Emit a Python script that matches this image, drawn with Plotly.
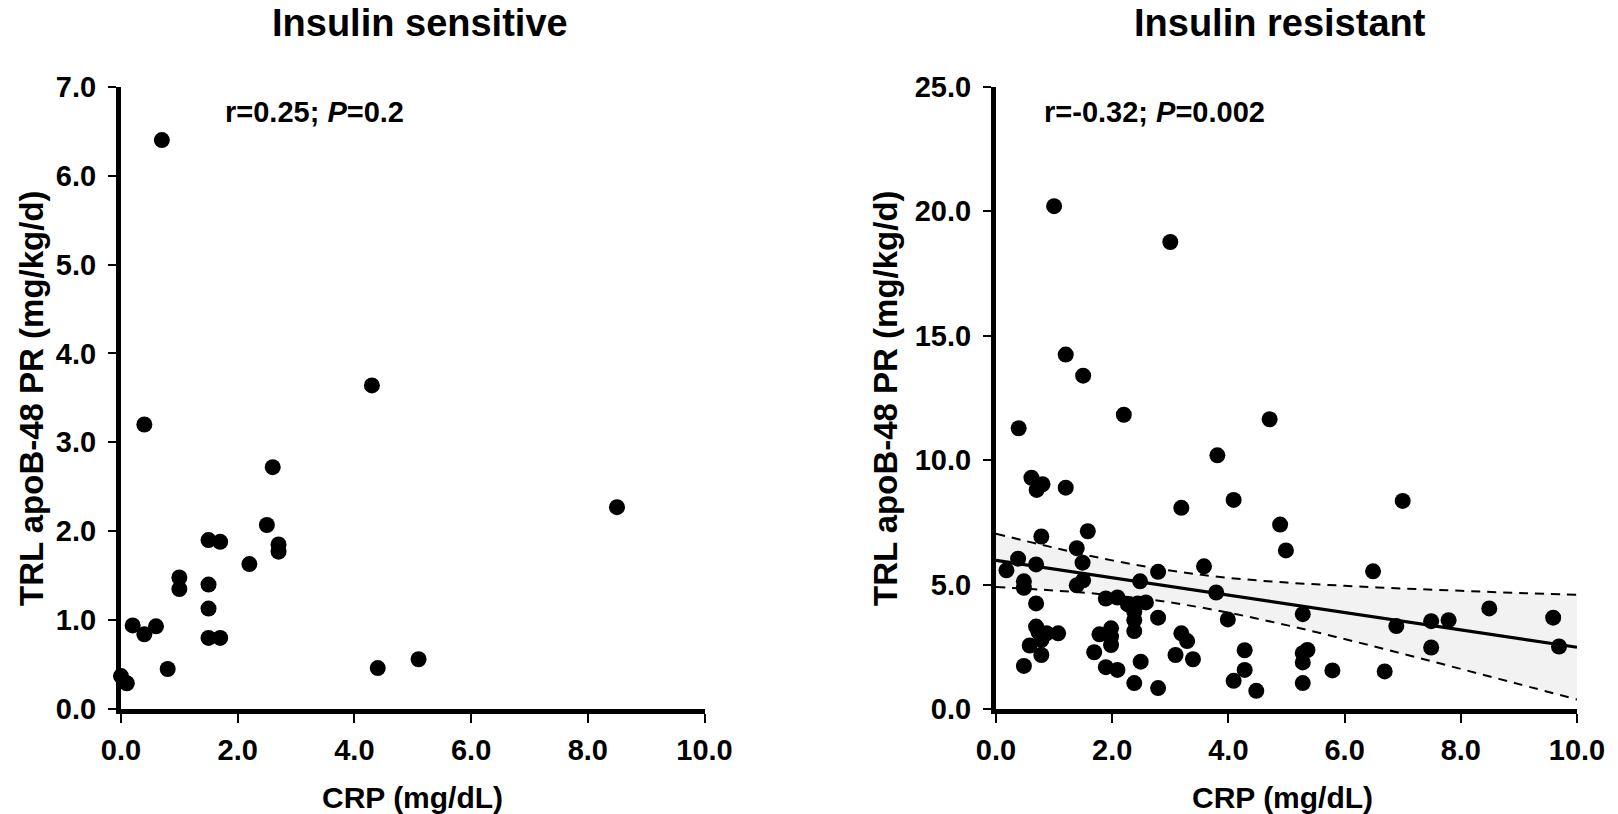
import plotly.graph_objects as go

# ---------------- data ----------------
# Insulin sensitive
crp_sens = [0.0, 0.1, 0.2, 0.4, 0.6, 0.4, 0.7, 0.8, 1.0, 1.0, 1.5, 1.5, 1.5,
            1.7, 1.5, 1.7, 2.2, 2.5, 2.6, 2.7, 2.7, 4.3, 4.4, 5.1, 8.5]
pr_sens = [0.37, 0.29, 0.94, 0.84, 0.93, 3.20, 6.40, 0.45, 1.48, 1.35, 1.40, 1.13, 0.80,
           0.80, 1.90, 1.88, 1.63, 2.07, 2.72, 1.85, 1.77, 3.64, 0.46, 0.56, 2.27]

# Insulin resistant
crp_res = [0.18, 0.38, 0.78, 0.69, 0.48, 0.48, 0.69, 1.58, 1.39, 1.49, 1.50, 1.39,
           2.79, 2.48, 3.58, 3.79, 3.19, 4.09, 4.89, 4.99, 5.28, 3.99, 1.89, 2.09,
           2.27, 2.44, 2.58, 2.38, 2.38, 2.38, 2.79, 0.69, 0.73, 0.87, 1.07, 0.78,
           0.58, 0.78, 0.48, 1.78, 1.98, 1.98, 1.98, 1.69, 1.89, 2.09, 2.49, 2.38,
           2.79, 3.19, 3.29, 3.09, 3.39, 4.28, 4.28, 4.09, 4.48, 5.28, 5.36, 5.28,
           5.28,
           1.00, 3.00, 1.20, 1.50, 2.20, 4.71, 0.39, 3.81, 0.61, 0.80, 0.70, 1.20, 7.00,
           6.49, 6.89, 7.49, 7.79, 8.49, 9.59, 7.49, 9.69, 5.79, 6.69]
pr_res = [5.57, 6.04, 6.93, 5.81, 5.13, 4.87, 4.24, 7.14, 6.46, 5.88, 5.17, 4.97,
          5.51, 5.13, 5.73, 4.68, 8.08, 8.40, 7.41, 6.37, 3.81, 3.60, 4.44, 4.48,
          4.20, 4.24, 4.28, 3.91, 3.57, 3.13, 3.67, 3.31, 3.10, 3.04, 3.04, 2.77,
          2.55, 2.17, 1.73, 3.00, 3.24, 2.91, 2.57, 2.28, 1.68, 1.57, 1.90, 1.04,
          0.84, 3.04, 2.73, 2.17, 2.00, 2.36, 1.57, 1.13, 0.73, 2.24, 2.37, 1.87,
          1.04,
          20.20, 18.76, 14.24, 13.39, 11.82, 11.64, 11.28, 10.19, 9.29, 9.03, 8.80, 8.89, 8.36,
          5.53, 3.33, 3.53, 3.57, 4.04, 3.67, 2.47, 2.51, 1.55, 1.51]

# regression line and 95% confidence band
fit_x = [0.0, 10.0]
fit_y = [5.97, 2.48]
ci_x = [0, 1, 2, 3, 4, 5, 6, 7, 8, 9, 10]
ci_upper = [7.04, 6.48, 5.97, 5.56, 5.27, 5.08, 4.95, 4.84, 4.75, 4.66, 4.59]
ci_lower = [4.90, 4.76, 4.57, 4.28, 3.87, 3.37, 2.81, 2.22, 1.61, 1.00, 0.38]

titles = ["Insulin sensitive", "Insulin resistant"]
stats = ["r=0.25; <i>P</i>=0.2", "r=-0.32; <i>P</i>=0.002"]
x_title = "CRP (mg/dL)"
y_title = "TRL apoB-48 PR (mg/kg/d)"

# ---------------- layout helpers ----------------
W, H = 1618, 814
FONT = "Liberation Sans, Arial, Helvetica, sans-serif"


def fx(px):
    return px / W


def fy(py):
    return 1 - py / H


fig = go.Figure()

# confidence band (right panel)
fig.add_trace(go.Scatter(x=ci_x, y=ci_lower, mode="lines", line=dict(width=0, shape="spline"),
                         xaxis="x2", yaxis="y2", showlegend=False, hoverinfo="skip"))
fig.add_trace(go.Scatter(x=ci_x, y=ci_upper, mode="lines", line=dict(width=0, shape="spline"),
                         fill="tonexty", fillcolor="#f2f2f2",
                         xaxis="x2", yaxis="y2", showlegend=False, hoverinfo="skip"))
for arr in (ci_upper, ci_lower):
    fig.add_trace(go.Scatter(x=ci_x, y=arr, mode="lines",
                             line=dict(color="black", width=2, dash="9px,7px", shape="spline"),
                             xaxis="x2", yaxis="y2", showlegend=False, cliponaxis=False))
fig.add_trace(go.Scatter(x=fit_x, y=fit_y, mode="lines", line=dict(color="black", width=3.2),
                         xaxis="x2", yaxis="y2", showlegend=False, cliponaxis=False))

# scatter points
fig.add_trace(go.Scatter(x=crp_sens, y=pr_sens, mode="markers",
                         marker=dict(color="black", size=16),
                         xaxis="x", yaxis="y", showlegend=False, cliponaxis=False))
fig.add_trace(go.Scatter(x=crp_res, y=pr_res, mode="markers",
                         marker=dict(color="black", size=16),
                         xaxis="x2", yaxis="y2", showlegend=False, cliponaxis=False))

tickfont = dict(family=FONT, size=29, color="black", weight="bold")
common_x = dict(range=[0, 10], dtick=2, tick0=0, tickformat=".1f", showgrid=False, zeroline=False,
                showline=True, linecolor="black", linewidth=5, ticks="outside", ticklen=9,
                tickwidth=2, tickcolor="black", tickfont=tickfont, ticklabelstandoff=2,
                automargin=False)
common_y = dict(showgrid=False, zeroline=False, tickformat=".1f",
                showline=True, linecolor="black", linewidth=5, ticks="outside", ticklen=8,
                tickwidth=2, tickcolor="black", tickfont=tickfont, ticklabelstandoff=6,
                automargin=False)

y_dom = [fy(709), fy(86.7)]
fig.update_layout(
    width=W, height=H,
    margin=dict(l=0, r=0, t=0, b=0, pad=0, autoexpand=False),
    paper_bgcolor="white", plot_bgcolor="white",
    xaxis=dict(domain=[fx(121), fx(704.5)], anchor="y", **common_x),
    yaxis=dict(domain=y_dom, anchor="x", range=[0, 7], dtick=1, tick0=0, **common_y),
    xaxis2=dict(domain=[fx(996), fx(1577)], anchor="y2", **common_x),
    yaxis2=dict(domain=y_dom, anchor="x2", range=[0, 25], dtick=5, tick0=0, **common_y),
)

ann = []
for cx, t in zip([420, 1280], titles):
    ann.append(dict(text="<b>" + t + "</b>", x=fx(cx), y=fy(23), xref="paper", yref="paper",
                    xanchor="center", yanchor="middle", showarrow=False,
                    font=dict(family=FONT, size=38, color="black")))
for lx, s in zip([223, 1042], stats):
    ann.append(dict(text="<b>" + s + "</b>", x=fx(lx), y=fy(111.5), xref="paper", yref="paper",
                    xanchor="left", yanchor="middle", showarrow=False,
                    font=dict(family=FONT, size=29, color="black")))
for cx in [412, 1282]:
    ann.append(dict(text="<b>" + x_title + "</b>", x=fx(cx), y=fy(797), xref="paper", yref="paper",
                    xanchor="center", yanchor="middle", showarrow=False,
                    font=dict(family=FONT, size=30, color="black")))
for cx in [31, 885]:
    ann.append(dict(text="<b>" + y_title + "</b>", x=fx(cx), y=fy(398), xref="paper", yref="paper",
                    xanchor="center", yanchor="middle", showarrow=False, textangle=-90,
                    font=dict(family=FONT, size=33, color="black")))
fig.update_layout(annotations=ann)

fig.write_html("out.html")
